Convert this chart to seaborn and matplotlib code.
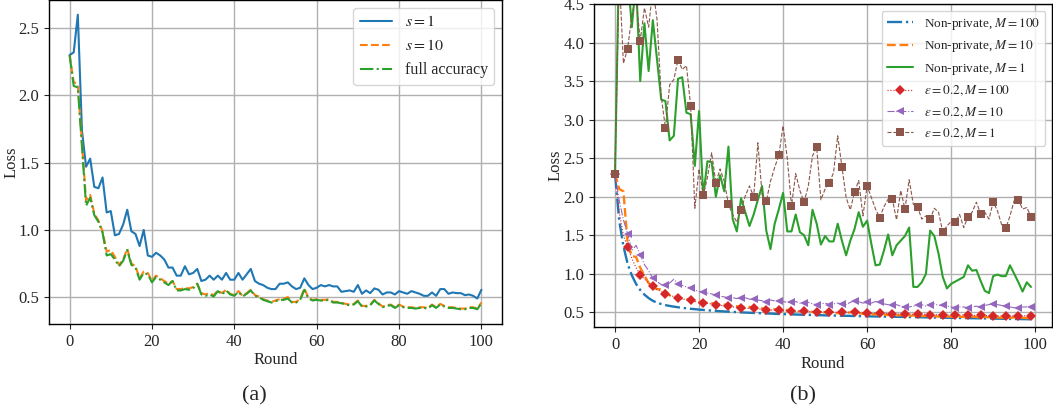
import numpy as np
import matplotlib
matplotlib.use("Agg")
import matplotlib.pyplot as plt
from matplotlib.lines import Line2D
import seaborn as sns

# ---------------- data ----------------
rounds_a = list(range(0, 101))
loss_s1 = [2.30, 2.32, 2.60, 1.74, 1.47, 1.53, 1.32, 1.31, 1.39, 1.13,
           1.14, 0.96, 0.97, 1.04, 1.15, 0.99, 0.97, 0.88, 1.00, 0.81,
           0.80, 0.83, 0.81, 0.78, 0.72, 0.72, 0.66, 0.66, 0.73, 0.67,
           0.68, 0.71, 0.62, 0.63, 0.66, 0.63, 0.66, 0.63, 0.68, 0.63,
           0.63, 0.68, 0.63, 0.67, 0.71, 0.62, 0.60, 0.59, 0.57, 0.56,
           0.56, 0.60, 0.60, 0.61, 0.58, 0.56, 0.57, 0.64, 0.59, 0.56,
           0.57, 0.59, 0.58, 0.59, 0.58, 0.58, 0.54, 0.545, 0.55, 0.54,
           0.59, 0.525, 0.55, 0.53, 0.565, 0.555, 0.52, 0.535, 0.535, 0.52,
           0.545, 0.535, 0.525, 0.545, 0.535, 0.525, 0.51, 0.51, 0.535, 0.51,
           0.56, 0.56, 0.525, 0.535, 0.53, 0.53, 0.515, 0.52, 0.51, 0.49,
           0.555]
loss_s10 = [2.30, 2.10, 2.08, 1.65, 1.22, 1.26, 1.12, 1.07, 0.99, 0.84,
            0.85, 0.80, 0.74, 0.78, 0.86, 0.75, 0.73, 0.64, 0.69, 0.68,
            0.62, 0.66, 0.64, 0.62, 0.60, 0.62, 0.56, 0.56, 0.57, 0.565,
            0.575, 0.60, 0.53, 0.52, 0.53, 0.515, 0.55, 0.53, 0.555, 0.525,
            0.515, 0.545, 0.51, 0.53, 0.555, 0.515, 0.505, 0.485, 0.475, 0.465,
            0.475, 0.485, 0.49, 0.50, 0.465, 0.465, 0.485, 0.565, 0.495, 0.48,
            0.485, 0.48, 0.48, 0.485, 0.465, 0.465, 0.46, 0.45, 0.445, 0.45,
            0.475, 0.435, 0.435, 0.445, 0.48, 0.455, 0.43, 0.44, 0.445, 0.425,
            0.445, 0.43, 0.425, 0.425, 0.42, 0.425, 0.425, 0.42, 0.445, 0.425,
            0.45, 0.435, 0.425, 0.425, 0.42, 0.415, 0.415, 0.425, 0.425, 0.415,
            0.46]
loss_full = [2.30, 2.07, 2.06, 1.62, 1.18, 1.24, 1.11, 1.06, 0.98, 0.81,
             0.82, 0.78, 0.73, 0.77, 0.85, 0.74, 0.72, 0.63, 0.68, 0.67,
             0.61, 0.65, 0.63, 0.61, 0.59, 0.62, 0.55, 0.55, 0.56, 0.555,
             0.565, 0.60, 0.52, 0.51, 0.52, 0.505, 0.545, 0.52, 0.55, 0.52,
             0.51, 0.54, 0.505, 0.525, 0.55, 0.51, 0.50, 0.48, 0.47, 0.46,
             0.47, 0.48, 0.48, 0.49, 0.46, 0.46, 0.48, 0.555, 0.49, 0.475,
             0.48, 0.475, 0.475, 0.48, 0.46, 0.46, 0.455, 0.445, 0.44, 0.445,
             0.47, 0.43, 0.43, 0.44, 0.475, 0.45, 0.425, 0.435, 0.44, 0.42,
             0.44, 0.425, 0.42, 0.42, 0.415, 0.42, 0.42, 0.415, 0.44, 0.42,
             0.445, 0.43, 0.42, 0.42, 0.415, 0.41, 0.41, 0.42, 0.42, 0.41,
             0.455]
labels_a = ["$s = 1$", "$s = 10$", "full accuracy"]

rounds_b = list(range(0, 100))
np_m100 = [2.30, 1.69, 1.36, 1.13, 0.98, 0.87, 0.79, 0.73, 0.685, 0.65,
           0.625, 0.608, 0.594, 0.583, 0.574, 0.566, 0.559, 0.552, 0.546, 0.541,
           0.536, 0.531, 0.527, 0.523, 0.519, 0.515, 0.512, 0.509, 0.506, 0.503,
           0.500, 0.497, 0.495, 0.492, 0.490, 0.488, 0.486, 0.484, 0.481, 0.479,
           0.477, 0.475, 0.474, 0.472, 0.470, 0.469, 0.467, 0.466, 0.464, 0.463,
           0.461, 0.460, 0.459, 0.457, 0.456, 0.455, 0.454, 0.452, 0.451, 0.450,
           0.449, 0.448, 0.447, 0.446, 0.445, 0.444, 0.443, 0.442, 0.441, 0.440,
           0.439, 0.438, 0.437, 0.436, 0.435, 0.434, 0.433, 0.432, 0.431, 0.430,
           0.429, 0.428, 0.427, 0.426, 0.425, 0.424, 0.423, 0.422, 0.421, 0.420,
           0.419, 0.418, 0.417, 0.416, 0.415, 0.414, 0.413, 0.412, 0.411, 0.410]
np_m10 = [2.30, 2.10, 2.07, 1.40, 1.23, 1.22, 1.08, 0.98, 0.88, 0.83,
          0.80, 0.80, 0.78, 0.72, 0.70, 0.70, 0.68, 0.67, 0.66, 0.65,
          0.64, 0.63, 0.625, 0.62, 0.61, 0.60, 0.60, 0.59, 0.58, 0.58,
          0.575, 0.57, 0.57, 0.56, 0.555, 0.55, 0.55, 0.545, 0.54, 0.535,
          0.53, 0.53, 0.525, 0.52, 0.515, 0.52, 0.51, 0.505, 0.50, 0.50,
          0.50, 0.495, 0.49, 0.49, 0.485, 0.49, 0.50, 0.53, 0.49, 0.48,
          0.48, 0.475, 0.475, 0.47, 0.47, 0.465, 0.465, 0.46, 0.465, 0.46,
          0.455, 0.46, 0.455, 0.45, 0.455, 0.45, 0.45, 0.445, 0.45, 0.445,
          0.445, 0.44, 0.445, 0.44, 0.44, 0.445, 0.44, 0.435, 0.44, 0.435,
          0.44, 0.435, 0.43, 0.435, 0.43, 0.435, 0.43, 0.43, 0.425, 0.43]
np_m1 = [2.30, 5.20, 5.00, 4.90, 4.20, 4.80, 3.50, 4.25, 3.63, 4.29,
         3.78, 3.26, 3.24, 2.73, 2.79, 3.53, 3.55, 3.09, 3.07, 2.40,
         3.11, 2.01, 2.46, 2.45, 2.00, 2.28, 2.07, 2.65, 1.71, 1.55,
         1.98, 1.80, 1.62, 1.77, 1.96, 2.14, 1.56, 1.32, 1.65, 1.84,
         2.05, 1.55, 1.55, 1.77, 1.54, 1.50, 1.37, 1.83, 1.65, 1.38,
         1.49, 1.42, 1.42, 1.65, 1.43, 1.24, 1.43, 1.58, 1.80, 1.61,
         1.69, 1.39, 1.11, 1.12, 1.30, 1.51, 1.24, 1.37, 1.43, 1.49,
         1.60, 0.83, 0.83, 0.89, 1.00, 1.56, 1.49, 1.26, 0.96, 0.81,
         0.87, 0.90, 0.93, 0.96, 1.11, 1.04, 1.05, 0.91, 0.78, 0.75,
         0.97, 0.99, 0.97, 0.97, 1.11, 1.00, 0.89, 0.77, 0.89, 0.83]
dp_m100 = [2.30, 1.80, 1.50, 1.35, 1.20, 1.08, 0.99, 0.93, 0.88, 0.84,
           0.80, 0.77, 0.74, 0.72, 0.705, 0.69, 0.675, 0.665, 0.655, 0.64,
           0.63, 0.62, 0.615, 0.61, 0.60, 0.59, 0.585, 0.58, 0.57, 0.565,
           0.56, 0.555, 0.55, 0.55, 0.545, 0.54, 0.535, 0.53, 0.53, 0.525,
           0.52, 0.52, 0.52, 0.515, 0.515, 0.515, 0.51, 0.51, 0.51, 0.505,
           0.505, 0.505, 0.50, 0.50, 0.50, 0.50, 0.50, 0.50, 0.495, 0.495,
           0.49, 0.49, 0.49, 0.49, 0.485, 0.485, 0.485, 0.48, 0.48, 0.48,
           0.48, 0.475, 0.475, 0.475, 0.475, 0.47, 0.47, 0.47, 0.47, 0.465,
           0.465, 0.465, 0.465, 0.465, 0.46, 0.46, 0.46, 0.46, 0.46, 0.46,
           0.455, 0.455, 0.455, 0.455, 0.455, 0.455, 0.455, 0.455, 0.455, 0.455]
dp_m10 = [2.30, 1.95, 1.70, 1.52, 1.30, 1.37, 1.25, 1.12, 1.04, 0.94,
          0.90, 0.86, 0.85, 0.88, 0.93, 0.87, 0.85, 0.83, 0.82, 0.79,
          0.77, 0.77, 0.75, 0.74, 0.72, 0.71, 0.70, 0.69, 0.69, 0.68,
          0.68, 0.69, 0.67, 0.67, 0.66, 0.65, 0.64, 0.66, 0.65, 0.65,
          0.64, 0.63, 0.63, 0.64, 0.62, 0.62, 0.63, 0.61, 0.60, 0.61,
          0.62, 0.60, 0.61, 0.62, 0.61, 0.60, 0.63, 0.65, 0.64, 0.62,
          0.63, 0.62, 0.64, 0.63, 0.61, 0.60, 0.59, 0.60, 0.58, 0.57,
          0.57, 0.58, 0.59, 0.60, 0.58, 0.60, 0.61, 0.59, 0.59, 0.58,
          0.57, 0.56, 0.57, 0.57, 0.56, 0.57, 0.58, 0.57, 0.59, 0.60,
          0.61, 0.60, 0.59, 0.58, 0.57, 0.56, 0.56, 0.57, 0.57, 0.57]
dp_m1 = [2.30, 4.90, 3.73, 3.92, 4.35, 4.60, 4.02, 4.45, 4.20, 4.70,
         4.30, 3.30, 2.89, 3.45, 3.52, 3.78, 3.65, 3.70, 3.18, 1.85,
         2.36, 2.02, 2.25, 2.57, 2.18, 2.36, 2.20, 1.90, 1.77, 1.67,
         1.83, 2.01, 2.14, 2.00, 2.70, 2.03, 1.94, 2.20, 2.38, 2.54,
         2.92, 2.50, 1.88, 2.30, 2.08, 1.93, 2.14, 2.53, 2.64, 1.96,
         2.10, 2.18, 2.31, 2.79, 2.39, 1.99, 1.83, 2.06, 2.21, 1.75,
         2.14, 1.99, 1.84, 1.73, 1.87, 1.97, 1.97, 1.70, 2.08, 1.84,
         2.22, 1.90, 1.87, 1.71, 1.75, 1.71, 1.85, 1.80, 1.54, 1.62,
         1.68, 1.67, 1.77, 1.60, 1.74, 1.80, 1.93, 1.78, 1.80, 1.71,
         1.93, 1.82, 1.64, 1.59, 1.75, 1.95, 1.96, 1.84, 1.86, 1.74]
labels_b = ["Non-private, $M = 100$", "Non-private, $M = 10$", "Non-private, $M = 1$",
            r"$\varepsilon = 0.2, M = 100$", r"$\varepsilon = 0.2, M = 10$",
            r"$\varepsilon = 0.2, M = 1$"]

# ---------------- style ----------------
sns.set_style("ticks", {"axes.grid": True, "grid.color": "#b0b0b0",
                        "axes.edgecolor": "black"})
plt.rcParams["font.family"] = ["Liberation Serif", "DejaVu Serif"]
plt.rcParams["mathtext.fontset"] = "stix"
plt.rcParams["grid.linewidth"] = 1.0
plt.rcParams["axes.linewidth"] = 1.0

pal = sns.color_palette("tab10")

fig = plt.figure(figsize=(10.53, 4.16), dpi=100)
ax1 = fig.add_axes([49 / 1053, 1 - 324 / 416, 453 / 1053, 324 / 416])
ax2 = fig.add_axes([594 / 1053, 1 - 327 / 416, 458 / 1053, 323 / 416])

# ---------------- panel (a) ----------------
sns.lineplot(x=rounds_a, y=loss_s1, ax=ax1, color=pal[0], lw=1.5,
             linestyle="-", label=labels_a[0])
sns.lineplot(x=rounds_a, y=loss_s10, ax=ax1, color=pal[1], lw=1.5,
             linestyle="--", label=labels_a[1])
sns.lineplot(x=rounds_a, y=loss_full, ax=ax1, color=pal[2], lw=1.5,
             linestyle="-.", label=labels_a[2])
ax1.set_xlabel("Round", fontsize=12, labelpad=2)
ax1.set_ylabel("Loss", fontsize=12)
ax1.yaxis.set_label_coords(-0.066, 0.5)
ax1.set_xticks([0, 20, 40, 60, 80, 100])
ax1.set_yticks([0.5, 1.0, 1.5, 2.0, 2.5])
ax1.tick_params(labelsize=12)
ax1.legend(loc="upper right", fontsize=11.5)

# ---------------- panel (b) ----------------
specs_b = [
    (np_m100, pal[0], 1.7, "-.", None),
    (np_m10, pal[1], 1.7, "--", None),
    (np_m1, pal[2], 1.5, "-", None),
    (dp_m100, pal[3], 0.8, ":", "D"),
    (dp_m10, pal[4], 0.8, "-.", "<"),
    (dp_m1, pal[5], 0.8, "--", "s"),
]
handles = []
for (vals, col, lw, ls, mk), lab in zip(specs_b, labels_b):
    if mk is None:
        sns.lineplot(x=rounds_b, y=vals, ax=ax2, color=col, lw=lw,
                     linestyle=ls, legend=False)
    else:
        sns.lineplot(x=rounds_b, y=vals, ax=ax2, color=col, lw=lw,
                     linestyle=ls, marker=mk, markersize=5.2, markevery=3,
                     markeredgewidth=0, legend=False)
    handles.append(Line2D([], [], color=col, lw=lw, linestyle=ls,
                          marker=mk if mk else "None", markersize=5.2,
                          markeredgewidth=0, label=lab))
ax2.set_ylim(0.31, 4.5)
ax2.set_xlim(-5, 104)
ax2.set_xlabel("Round", fontsize=12, labelpad=2)
ax2.set_ylabel("Loss", fontsize=12)
ax2.yaxis.set_label_coords(-0.066, 0.5)
ax2.set_xticks([0, 20, 40, 60, 80, 100])
ax2.set_yticks([0.5, 1.0, 1.5, 2.0, 2.5, 3.0, 3.5, 4.0, 4.5])
ax2.tick_params(labelsize=12)
ax2.legend(handles=handles, loc="upper right", fontsize=9.5)

fig.text(254 / 1053, 1 - 396 / 416, "(a)", ha="center", va="center", fontsize=16)
fig.text(803 / 1053, 1 - 396 / 416, "(b)", ha="center", va="center", fontsize=16)

fig.savefig("out.png", dpi=100)
